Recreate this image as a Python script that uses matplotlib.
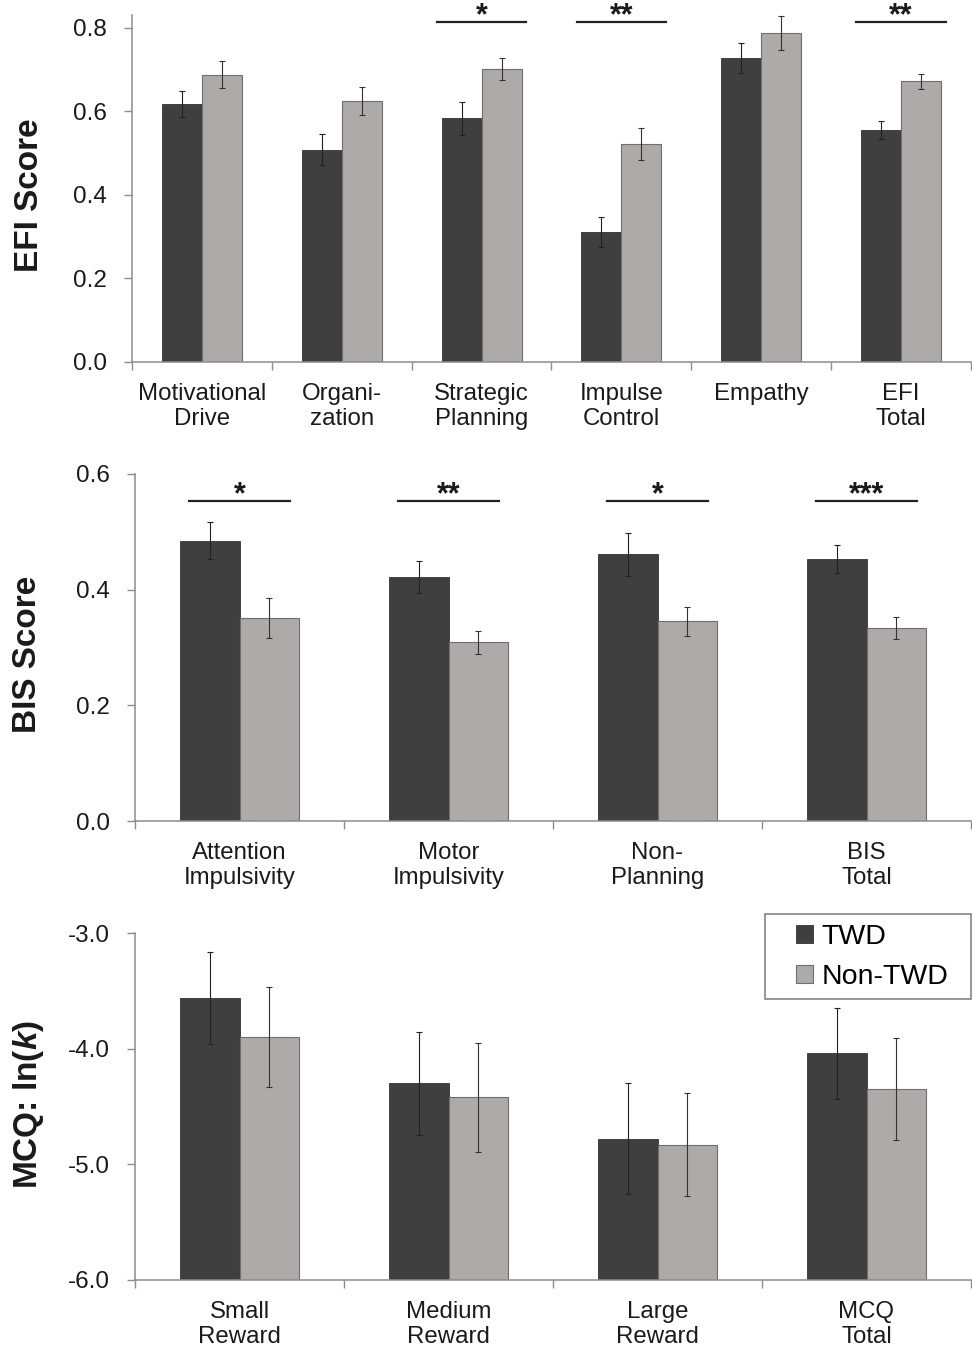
import numpy as np
import matplotlib
matplotlib.use("Agg")
import matplotlib.pyplot as plt
from matplotlib.patches import Patch, Rectangle

plt.rcParams['font.family'] = ['Liberation Sans', 'DejaVu Sans']
plt.rcParams['axes.unicode_minus'] = False
plt.rcParams['mathtext.fontset'] = 'custom'
plt.rcParams['mathtext.it'] = 'Liberation Sans:italic:bold'
plt.rcParams['mathtext.rm'] = 'Liberation Sans:bold'

# --- data ---
efi_labels = ["Motivational\nDrive", "Organi-\nzation", "Strategic\nPlanning",
              "Impulse\nControl", "Empathy", "EFI\nTotal"]
efi_twd = [0.617, 0.508, 0.583, 0.311, 0.727, 0.555]
efi_twd_err = [0.032, 0.037, 0.040, 0.035, 0.036, 0.022]
efi_non = [0.687, 0.624, 0.701, 0.522, 0.787, 0.672]
efi_non_err = [0.032, 0.033, 0.027, 0.038, 0.040, 0.018]
efi_sig = {2: "*", 3: "**", 5: "**"}

bis_labels = ["Attention\nImpulsivity", "Motor\nImpulsivity", "Non-\nPlanning", "BIS\nTotal"]
bis_twd = [0.485, 0.422, 0.461, 0.453]
bis_twd_err = [0.032, 0.028, 0.037, 0.024]
bis_non = [0.351, 0.309, 0.345, 0.334]
bis_non_err = [0.034, 0.020, 0.025, 0.019]
bis_sig = {0: "*", 1: "**", 2: "*", 3: "***"}

mcq_labels = ["Small\nReward", "Medium\nReward", "Large\nReward", "MCQ\nTotal"]
mcq_twd = [-3.56, -4.30, -4.78, -4.04]
mcq_twd_err = [0.40, 0.445, 0.48, 0.395]
mcq_non = [-3.90, -4.42, -4.83, -4.35]
mcq_non_err = [0.43, 0.47, 0.445, 0.44]

DARK = "#3f3f3f"
LIGHT = "#adaaa9"
AXC = "#8c8c8c"
W = 0.286

fig = plt.figure(figsize=(9.72, 13.49), dpi=100)
FW, FH = 972, 1349


def px_axes(left, top, right, bottom):
    return fig.add_axes([left / FW, 1 - bottom / FH, (right - left) / FW, (bottom - top) / FH])


def panel(ax, labels, twd, twd_err, non, non_err, ylim, yticks, sig=None, sig_y=None, sig_hw=None):
    n = len(labels)
    x = np.arange(n)
    base = ylim[0]
    twd = np.array(twd)
    non = np.array(non)
    ax.bar(x - W / 2, twd - base, W, bottom=base, color=DARK, edgecolor="#333333", linewidth=0.6, zorder=2)
    ax.bar(x + W / 2, non - base, W, bottom=base, color=LIGHT, edgecolor="#6e6e6e", linewidth=0.8, zorder=2)
    ax.errorbar(x - W / 2, twd, yerr=twd_err, fmt='none', ecolor="#222222",
                elinewidth=0.8, capsize=2, capthick=0.8, zorder=3)
    ax.errorbar(x + W / 2, non, yerr=non_err, fmt='none', ecolor="#333333",
                elinewidth=0.8, capsize=2, capthick=0.8, zorder=3)
    ax.set_xlim(-0.5, n - 0.5)
    ax.set_ylim(*ylim)
    ax.set_yticks(yticks)
    ax.set_yticklabels(["%.1f" % t for t in yticks])
    ax.set_xticks(np.arange(n + 1) - 0.5)
    ax.set_xticklabels([])
    ax.set_xticks(x, minor=True)
    ax.set_xticklabels(labels, minor=True, fontsize=17.3, color="#1a1a1a")
    ax.tick_params(axis='x', which='major', length=6, width=1, color=AXC, direction='out')
    ax.tick_params(axis='x', which='minor', length=0, pad=15)
    ax.tick_params(axis='y', length=6, width=1, color=AXC, labelsize=17.5, labelcolor="#1a1a1a", pad=12)
    for s in ["top", "right"]:
        ax.spines[s].set_visible(False)
    for s in ["left", "bottom"]:
        ax.spines[s].set_color(AXC)
        ax.spines[s].set_linewidth(1.1)
    if sig:
        for i, stars in sig.items():
            ax.plot([i - sig_hw, i + sig_hw], [sig_y, sig_y], color="#222222", lw=1.6,
                    clip_on=False, zorder=4)
            ax.annotate(stars, (i, sig_y), xytext=(0, -1.5), textcoords='offset points',
                        ha='center', va='baseline', fontsize=22, fontweight='bold',
                        color="#1a1a1a", annotation_clip=False)


ax1 = px_axes(132, 15, 971, 362)
panel(ax1, efi_labels, efi_twd, efi_twd_err, efi_non, efi_non_err,
      (0, 0.83), [0.0, 0.2, 0.4, 0.6, 0.8], efi_sig, 0.813, 0.32)

ax2 = px_axes(135, 474, 971, 821)
panel(ax2, bis_labels, bis_twd, bis_twd_err, bis_non, bis_non_err,
      (0, 0.6), [0.0, 0.2, 0.4, 0.6], bis_sig, 0.553, 0.244)

ax3 = px_axes(135, 933, 971, 1280)
panel(ax3, mcq_labels, mcq_twd, mcq_twd_err, mcq_non, mcq_non_err,
      (-6, -3), [-6.0, -5.0, -4.0, -3.0])

# y labels
fig.text(30 / FW, 1 - 195 / FH, "EFI Score", rotation=90, ha='center', va='center',
         fontsize=24, fontweight='bold', color="#1a1a1a")
fig.text(28 / FW, 1 - 654 / FH, "BIS Score", rotation=90, ha='center', va='center',
         fontsize=24, fontweight='bold', color="#1a1a1a")
fig.text(28 / FW, 1 - 1105 / FH, r"MCQ: ln($\mathit{k}$)", rotation=90, ha='center', va='center',
         fontsize=24, fontweight='bold', color="#1a1a1a")

# legend
handles = [Patch(facecolor=DARK, edgecolor="#333333", linewidth=0.6),
           Patch(facecolor=LIGHT, edgecolor="#6e6e6e", linewidth=0.8)]
ax3.legend(handles, ["TWD", "Non-TWD"], loc='upper left',
           bbox_to_anchor=((795.7 - 135) / 836, (1280 - 924) / 347),
           frameon=False, borderpad=0, borderaxespad=0, fontsize=20.5,
           handlelength=0.6, handleheight=0.6, handletextpad=0.3, labelspacing=0.5)
ax3.add_patch(Rectangle(((765 - 135) / 836, (1280 - 999) / 347),
                        (971 - 765) / 836, (999 - 914) / 347,
                        transform=ax3.transAxes, fill=False, edgecolor="#7a7a7a",
                        linewidth=1.1, clip_on=False, zorder=5))

fig.savefig("out.png", dpi=100)
